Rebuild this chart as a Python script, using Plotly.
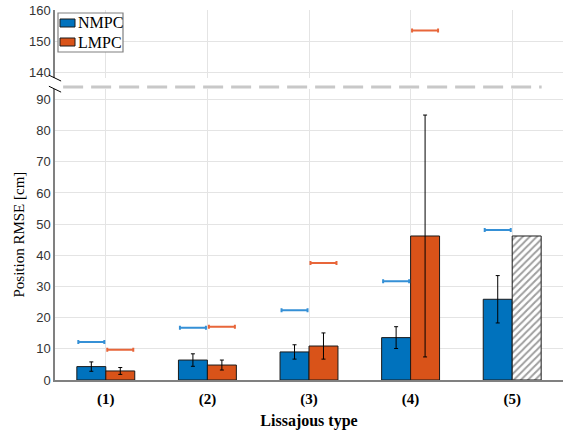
import numpy as np
import plotly.graph_objects as go

categories = ["(1)", "(2)", "(3)", "(4)", "(5)"]
nmpc_mean = [4.3, 6.4, 9.0, 13.6, 25.9]
nmpc_std = [1.5, 2.0, 2.3, 3.5, 7.6]
lmpc_mean = [2.9, 4.8, 10.9, 46.2]
lmpc_std = [1.1, 1.6, 4.2, 38.8]
lmpc_hatched_mean = [46.2]          # category (5), no error bar
nmpc_max = [12.2, 16.8, 22.4, 31.7, 48.1]
lmpc_max = [9.7, 17.1, 37.5, 153.4]

LOW_RANGE = [0, 93.3]
HIGH_RANGE = [138.2, 160]

BLUE = "#0072BD"
ORANGE = "#D95319"
BLUE_L = "#3590d6"
ORANGE_L = "#e8663a"

xpos = np.arange(1, len(categories) + 1)
bw = 0.285

fig = go.Figure()

fig.add_trace(go.Bar(
    x=xpos, y=nmpc_mean, width=bw, offset=-bw, name="NMPC",
    marker=dict(color=BLUE, line=dict(color="#1a1a1a", width=1)),
    error_y=dict(type="data", array=nmpc_std, color="black", thickness=1, width=2),
    xaxis="x", yaxis="y", showlegend=False,
))

fig.add_trace(go.Bar(
    x=xpos[:len(lmpc_mean)], y=lmpc_mean, width=bw, offset=0, name="LMPC",
    marker=dict(color=ORANGE, line=dict(color="#1a1a1a", width=1)),
    error_y=dict(type="data", array=lmpc_std, color="black", thickness=1, width=2),
    xaxis="x", yaxis="y", showlegend=False,
))

fig.add_trace(go.Bar(
    x=xpos[len(lmpc_mean):], y=lmpc_hatched_mean, width=bw, offset=0, name="LMPC (5)",
    marker=dict(color="white", line=dict(color="#1a1a1a", width=1),
                pattern=dict(shape="/", fgcolor="#404040", bgcolor="white",
                             size=5, solidity=0.4)),
    xaxis="x", yaxis="y", showlegend=False,
))

def add_markers(vals, shift, color):
    vals = np.array(vals, dtype=float)
    xs = xpos[:len(vals)] + shift
    low = np.where(vals <= LOW_RANGE[1], vals, np.nan)
    high = np.where(vals > LOW_RANGE[1], vals, np.nan)
    for arr, xa, ya in [(low, "x", "y"), (high, "x2", "y2")]:
        fig.add_trace(go.Scatter(
            x=xs, y=arr, mode="markers",
            marker=dict(size=1, color=color, opacity=0),
            error_x=dict(type="constant", value=0.128, color=color, thickness=2, width=2),
            showlegend=False, hoverinfo="skip", xaxis=xa, yaxis=ya,
        ))

add_markers(nmpc_max, -bw / 2, BLUE_L)
add_markers(lmpc_max, bw / 2, ORANGE_L)

low_top = 0.786
high_bot = 0.816
tickfont = dict(family="Liberation Sans", size=13, color="#333333")
grid = "#e4e4e4"
axline = "#808080"

fig.update_layout(
    width=563, height=430,
    margin=dict(l=55, r=0, t=10, b=50),
    plot_bgcolor="white", paper_bgcolor="white",
    barmode="overlay",
    showlegend=False,
    xaxis=dict(range=[0.5, 5.5], tickvals=list(xpos), ticktext=categories,
               showgrid=True, gridcolor=grid, zeroline=False,
               showline=True, linecolor=axline, linewidth=1.5, ticks="",
               tickfont=dict(family="Liberation Serif", size=15, color="black", weight="bold"),
               ticklabelstandoff=4,
               title=dict(text="<b>Lissajous type</b>", standoff=9,
                          font=dict(family="Liberation Serif", size=16, color="black")),
               anchor="y"),
    xaxis2=dict(range=[0.5, 5.5], matches="x", tickvals=list(xpos), showticklabels=False,
                showgrid=True, gridcolor=grid, zeroline=False, showline=False,
                ticks="", anchor="y2"),
    yaxis=dict(domain=[0, low_top], range=LOW_RANGE, tickvals=list(range(0, 91, 10)),
               showgrid=True, gridcolor=grid, zeroline=False,
               showline=True, linecolor=axline, linewidth=1.5, ticks="",
               tickfont=tickfont, anchor="x",
               title=dict(text="Position RMSE [cm]", standoff=8,
                          font=dict(family="Liberation Serif", size=15, color="black"))),
    yaxis2=dict(domain=[high_bot, 1], range=HIGH_RANGE, tickvals=[140, 150, 160],
                showgrid=True, gridcolor=grid, zeroline=False,
                showline=True, linecolor=axline, linewidth=1.5, ticks="",
                tickfont=tickfont, anchor="x2"),
)

# axis break decorations
fig.add_shape(type="line", xref="paper", yref="paper", x0=0.016, x1=0.958,
              y0=low_top + 0.006, y1=low_top + 0.006,
              line=dict(color="#c8c8c8", width=3, dash="20px,8px"))
for yb in [high_bot, low_top]:
    fig.add_shape(type="line", xref="paper", yref="paper",
                  x0=-0.012, x1=0.012, y0=yb + 0.008, y1=yb - 0.008,
                  line=dict(color="black", width=1))

# compact legend box (pixel layout converted to paper coordinates)
L, B, W, H = 55, 380, 508, 370
px = lambda v: (v - L) / W
py = lambda v: (B - v) / H
fig.add_shape(type="rect", xref="paper", yref="paper",
              x0=px(58), x1=px(123), y0=py(52), y1=py(13),
              line=dict(color="#808080", width=1.2), fillcolor="white", layer="above")
for name, col, yc in [("NMPC", BLUE, 23), ("LMPC", ORANGE, 42)]:
    fig.add_shape(type="rect", xref="paper", yref="paper",
                  x0=px(60), x1=px(75), y0=py(yc + 4), y1=py(yc - 4),
                  line=dict(color="#1a1a1a", width=1), fillcolor=col, layer="above")
    fig.add_annotation(text=name, xref="paper", yref="paper", x=px(75.5), y=py(yc),
                       xanchor="left", yanchor="middle", showarrow=False,
                       font=dict(family="Liberation Serif", size=16, color="black"))

fig.write_html("out.html")
